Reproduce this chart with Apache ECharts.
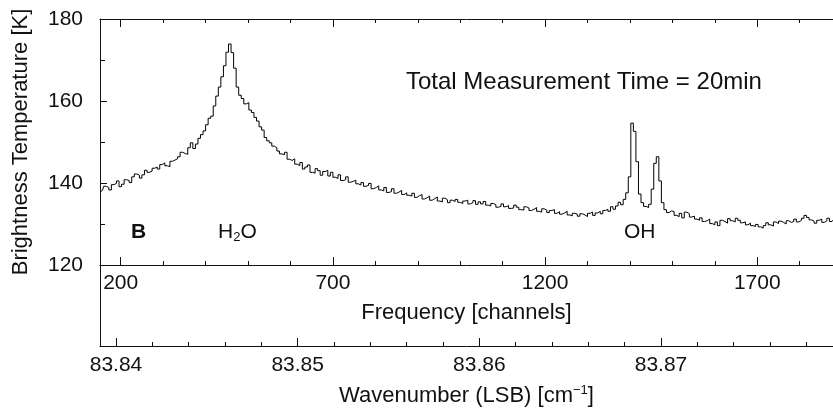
<!DOCTYPE html>
<html>
<head>
<meta charset="utf-8">
<script src="https://cdn.jsdelivr.net/npm/echarts@6.0.0/dist/echarts.min.js"></script>
<style>
  html, body { margin: 0; padding: 0; background: #fff; }
  #chart { width: 833px; height: 410px; }
</style>
</head>
<body>
<div id="chart"></div>
<script>
// spectrum: one value per 6-channel bin, first bin centred on channel 151
const firstChannel = 151;
const binWidth = 6;
const brightness = [
  137.8, 138.2, 139.2, 138.9, 138.3, 139.6, 139.9, 140.5, 139.1, 139.7,
  140.8, 140.6, 140.1, 141.5, 142.2, 141.9, 141.2, 142.0, 143.1, 142.6,
  142.9, 143.6, 143.9, 143.4, 144.5, 144.9, 144.2, 144.0, 145.3, 145.6,
  145.9, 146.4, 147.5, 147.2, 147.0, 148.6, 149.8, 148.4, 149.5, 150.9,
  151.8, 152.7, 154.2, 155.8, 156.3, 158.8, 161.2, 163.4, 165.9, 168.6,
  171.9, 173.9, 171.8, 168.0, 163.4, 161.4, 160.6, 159.3, 159.6, 157.8,
  157.2, 156.0, 155.1, 153.7, 152.9, 151.1, 150.3, 149.8, 149.0, 148.6,
  147.8, 147.1, 146.9, 147.5, 145.8, 145.5, 145.9, 144.6, 144.2, 145.0,
  143.4, 143.9, 144.4, 142.6, 142.4, 143.5, 143.0, 141.9, 142.8, 143.1,
  141.7, 142.6, 141.4, 141.1, 142.0, 140.6, 140.8, 141.5, 140.2, 140.4,
  140.7, 139.8, 139.5, 140.1, 139.2, 139.4, 139.9, 138.6, 138.9, 139.3,
  138.3, 138.1, 138.9, 137.7, 137.9, 138.6, 137.5, 137.8, 138.2, 137.2,
  137.6, 137.0, 136.8, 137.5, 136.5, 136.9, 137.2, 136.1, 136.4, 136.8,
  135.8, 136.2, 136.6, 135.6, 135.4, 136.3, 135.9, 135.2, 135.8, 135.5,
  136.0, 135.3, 135.0, 135.6, 135.8, 134.9, 135.2, 135.7, 134.8, 135.4,
  134.9, 135.5, 134.6, 134.4, 135.0, 134.7, 134.1, 134.3, 134.9, 134.2,
  134.5, 133.8, 133.9, 134.6, 134.1, 133.5, 133.4, 134.2, 133.9, 133.3,
  133.6, 134.0, 133.1, 132.9, 133.7, 133.4, 132.8, 133.3, 133.5, 132.6,
  133.0, 132.4, 132.7, 133.1, 132.2, 132.0, 132.6, 132.4, 131.9, 132.5,
  132.2, 131.8, 132.6, 132.9, 132.1, 132.7, 133.1, 132.5, 133.3, 133.6,
  133.1, 134.2, 133.6, 134.4, 135.3, 134.7, 136.0, 137.6, 141.5, 154.6,
  152.6, 145.2, 137.3, 135.2, 134.3, 134.0, 134.8, 138.5, 144.8, 146.4,
  140.5, 135.2, 133.5, 132.8, 133.2, 133.0, 132.1, 131.8, 132.6, 131.5,
  132.9, 132.5, 131.7, 131.9, 131.2, 130.9, 131.5, 130.6, 130.8, 131.2,
  130.1, 129.8, 130.5, 129.6, 130.9, 130.6, 130.2, 131.3, 130.8, 130.5,
  131.4, 130.9, 130.3, 130.5, 129.8, 130.2, 129.6, 129.4, 129.9, 129.3,
  129.0, 129.6, 130.3, 129.8, 129.5, 130.5, 130.1, 130.7, 130.4, 130.0,
  130.8, 130.4, 130.6, 131.2, 130.5, 130.9, 131.4, 132.1, 131.6, 131.0,
  130.7, 130.2, 130.9, 131.2, 130.4, 130.8, 131.4, 130.6, 131.0
];

const channelTicks = [200, 700, 1200, 1700];
const channelMinorTicks = [200, 300, 400, 500, 600, 700, 800, 900, 1000, 1100,
  1200, 1300, 1400, 1500, 1600, 1700, 1800];
const wavenumberTicks = [83.84, 83.85, 83.86, 83.87];
const wavenumberMinorTicks = [83.840, 83.842, 83.844, 83.846, 83.848, 83.850,
  83.852, 83.854, 83.856, 83.858, 83.860, 83.862, 83.864, 83.866, 83.868,
  83.870, 83.872, 83.874, 83.876, 83.878];
const tempTicks = [120, 140, 160, 180];

const FONT = '"Liberation Sans", Arial, Helvetica, sans-serif';
const INK = '#111';

const data = brightness.map((v, i) => [firstChannel + i * binWidth, v]);

const chart = echarts.init(document.getElementById('chart'));

function tickAxis(opts) {
  return Object.assign({
    type: 'value',
    gridIndex: 0,
    position: 'bottom',
    min: 151.2,
    max: 1878.4,
    axisLine: { show: false, onZero: false },
    axisTick: { show: false },
    axisLabel: { show: false },
    splitLine: { show: false }
  }, opts);
}

chart.setOption({
  animation: false,
  backgroundColor: '#fff',
  textStyle: { fontFamily: FONT, color: INK },
  grid: [
    { left: 100, top: 19, right: 0, bottom: 145, outerBoundsMode: 'none' },
    { left: 100, top: 265, right: 0, height: 81, outerBoundsMode: 'none' }
  ],
  xAxis: [
    // frequency axis at the bottom of the plot: minor ticks, labels and name
    tickAxis({
      axisLine: { show: true, onZero: false, lineStyle: { color: INK, width: 1 } },
      axisTick: { show: true, inside: true, length: 4, customValues: channelMinorTicks,
        lineStyle: { color: INK } },
      axisLabel: { show: true, customValues: channelTicks, fontSize: 21, color: INK,
        fontFamily: FONT, margin: 8, formatter: v => String(v) },
      name: 'Frequency [channels]',
      nameLocation: 'middle',
      nameGap: 37,
      nameTextStyle: { fontSize: 22, color: INK, fontFamily: FONT }
    }),
    // major ticks, bottom
    tickAxis({
      axisTick: { show: true, inside: true, length: 8, customValues: channelTicks,
        lineStyle: { color: INK } }
    }),
    // top frame with minor ticks
    tickAxis({
      position: 'top',
      axisLine: { show: true, onZero: false, lineStyle: { color: INK, width: 1 } },
      axisTick: { show: true, inside: true, length: 4, customValues: channelMinorTicks,
        lineStyle: { color: INK } }
    }),
    // major ticks, top
    tickAxis({
      position: 'top',
      axisTick: { show: true, inside: true, length: 8, customValues: channelTicks,
        lineStyle: { color: INK } }
    }),
    // wavenumber axis
    {
      type: 'value',
      gridIndex: 1,
      position: 'bottom',
      min: 83.839119,
      max: 83.879467,
      axisLine: { show: true, onZero: false, lineStyle: { color: INK, width: 1 } },
      axisTick: { show: true, inside: true, length: 4, customValues: wavenumberMinorTicks,
        lineStyle: { color: INK } },
      axisLabel: { show: true, customValues: wavenumberTicks, fontSize: 21, color: INK,
        fontFamily: FONT, margin: 9, formatter: v => v.toFixed(2) },
      splitLine: { show: false },
      name: 'Wavenumber (LSB) [cm{sup|\u22121}]',
      nameLocation: 'middle',
      nameGap: 38,
      nameTextStyle: {
        fontSize: 22, color: INK, fontFamily: FONT,
        rich: { sup: { fontSize: 13, color: INK, fontFamily: FONT, verticalAlign: 'top', padding: [0, 0, 10, 0] } }
      }
    },
    {
      type: 'value',
      gridIndex: 1,
      position: 'bottom',
      min: 83.839119,
      max: 83.879467,
      axisLine: { show: false, onZero: false },
      axisTick: { show: true, inside: true, length: 8, customValues: wavenumberTicks,
        lineStyle: { color: INK } },
      axisLabel: { show: false },
      splitLine: { show: false }
    }
  ],
  yAxis: [
    {
      type: 'value',
      gridIndex: 0,
      min: 120,
      max: 180,
      interval: 20,
      axisLine: { show: true, onZero: false, lineStyle: { color: INK, width: 1 } },
      axisTick: { show: true, inside: true, length: 7, lineStyle: { color: INK } },
      minorTick: { show: true, splitNumber: 2, length: 5, lineStyle: { color: INK } },
      axisLabel: { fontSize: 21, color: INK, fontFamily: FONT, margin: 17,
        customValues: tempTicks },
      splitLine: { show: false }
    },
    {
      type: 'value',
      gridIndex: 1,
      min: 0,
      max: 1,
      axisLine: { show: true, onZero: false, lineStyle: { color: INK, width: 1 } },
      axisTick: { show: false },
      axisLabel: { show: false },
      splitLine: { show: false }
    }
  ],
  series: [{
    type: 'line',
    xAxisIndex: 0,
    yAxisIndex: 0,
    step: 'middle',
    symbol: 'none',
    clip: true,
    data: data,
    lineStyle: { color: '#000', width: 1 }
  }],
  graphic: [
    {
      type: 'text', x: 21, y: 142, rotation: Math.PI / 2,
      style: { text: 'Brightness Temperature [K]', font: '22px ' + FONT, fill: INK,
        align: 'center', verticalAlign: 'middle' }
    },
    {
      type: 'text', left: 406, top: 70,
      style: { text: 'Total Measurement Time = 20min', font: '24px ' + FONT, fill: INK }
    },
    {
      type: 'text', left: 131, top: 222,
      style: { text: 'B', font: 'bold 21px ' + FONT, fill: INK }
    },
    {
      type: 'text', left: 218, top: 222,
      style: {
        text: 'H{sub|2}O', font: '21px ' + FONT, fill: INK,
        rich: { sub: { fontSize: 13, fontFamily: FONT, fill: INK, verticalAlign: 'bottom', padding: [10, 0, 0, 0] } }
      }
    },
    {
      type: 'text', left: 624, top: 222,
      style: { text: 'OH', font: '21px ' + FONT, fill: INK }
    }
  ]
});
</script>
</body>
</html>
